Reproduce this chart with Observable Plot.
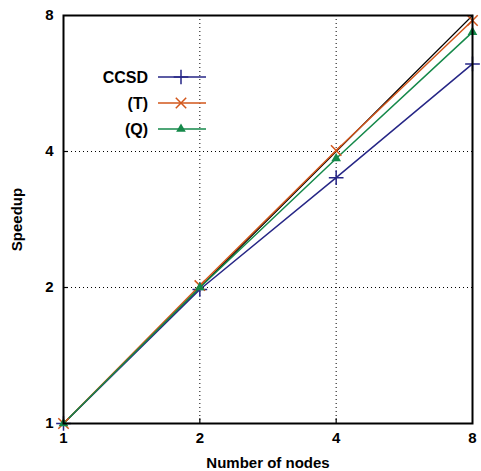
<!DOCTYPE html>
<html><head><meta charset="utf-8">
<script src="https://cdn.jsdelivr.net/npm/d3@7"></script>
<script src="https://cdn.jsdelivr.net/npm/@observablehq/plot@0.6"></script>
<style>
body{margin:0;background:#fff;font-family:"Liberation Sans",Arial,sans-serif;}
#wrap{position:relative;width:481px;height:471px;}
#legend{position:absolute;left:0;top:0;}
</style></head>
<body><div id="wrap"></div>
<script>
const nodes = [1, 2, 4, 8];
const ccsd = [1, 1.98, 3.5, 6.25];
const tri = [1, 2.02, 4.02, 7.8];
const quad = [1, 2.0, 3.86, 7.35];
const ideal = [1, 8];
const idealX = [1, 8];
const ticks = [1, 2, 4, 8];
const seriesNames = ["CCSD", "(T)", "(Q)"];
const colors = ["#262686", "#d2561a", "#15894a"];
const symbols = ["plus", "times", "triangle"];

const data = [];
[ccsd, tri, quad].forEach((vals, i) => vals.forEach((v, j) => data.push({s: seriesNames[i], x: nodes[j], y: v})));
const idealData = idealX.map((x, i) => ({x, y: ideal[i]}));

const chart = Plot.plot({
  width: 481, height: 471,
  marginLeft: 63, marginRight: 9, marginTop: 15, marginBottom: 48,
  style: {fontFamily: "Liberation Sans, Arial, sans-serif", fontSize: "16px", fontWeight: "bold", color: "#000", background: "#fff"},
  x: {type: "log", base: 2, domain: [1, 8]},
  y: {type: "log", base: 2, domain: [1, 8]},
  marks: [
    Plot.ruleX([2, 4], {stroke: "#000", strokeWidth: 1, strokeDasharray: "1,3"}),
    Plot.ruleY([2, 4], {stroke: "#000", strokeWidth: 1, strokeDasharray: "1,3"}),
    Plot.ruleX([2, 4], {y1: 1, y2: 1.025, stroke: "#000", strokeWidth: 1.2}),
    Plot.ruleY([2, 4], {x1: 1, x2: 1.025, stroke: "#000", strokeWidth: 1.2}),
    Plot.axisX({ticks: ticks, tickFormat: d => d, tickSize: 0, tickPadding: 9, fontSize: 15, label: "Number of nodes", labelAnchor: "center", labelOffset: 44, labelArrow: "none", fontWeight: "bold"}),
    Plot.axisY({ticks: ticks, tickFormat: d => d, tickSize: 0, tickPadding: 10, fontSize: 15, label: "Speedup", labelAnchor: "center", labelOffset: 52, labelArrow: "none", fontWeight: "bold"}),
    Plot.line(idealData, {x: "x", y: "y", stroke: "#000", strokeWidth: 1.2}),
    ...seriesNames.map((n, i) => Plot.line(data.filter(d => d.s === n), {x: "x", y: "y", stroke: colors[i], strokeWidth: 1.5})),
    ...seriesNames.map((n, i) => Plot.dot(data.filter(d => d.s === n), {x: "x", y: "y", symbol: symbols[i], r: i === 2 ? 3.6 : 4.8,
      stroke: i === 2 ? "none" : colors[i], fill: i === 2 ? colors[i] : "none", strokeWidth: 1.5})),
    Plot.frame({stroke: "#000", strokeWidth: 2})
  ]
});
document.getElementById("wrap").appendChild(chart);

// legend overlay
const ns = "http://www.w3.org/2000/svg";
const lg = document.createElementNS(ns, "svg");
lg.setAttribute("id", "legend");
lg.setAttribute("width", 481); lg.setAttribute("height", 471);
lg.style.pointerEvents = "none";
const ys = [77, 103, 129];
seriesNames.forEach((n, i) => {
  const t = document.createElementNS(ns, "text");
  t.setAttribute("x", 148); t.setAttribute("y", ys[i]); t.setAttribute("dy", "0.35em");
  t.setAttribute("text-anchor", "end"); t.setAttribute("font-size", 16); t.setAttribute("font-weight", "bold");
  t.setAttribute("font-family", "Liberation Sans, Arial, sans-serif");
  t.textContent = n; lg.appendChild(t);
  const l = document.createElementNS(ns, "line");
  l.setAttribute("x1", 158); l.setAttribute("x2", 206); l.setAttribute("y1", ys[i]); l.setAttribute("y2", ys[i]);
  l.setAttribute("stroke", colors[i]); l.setAttribute("stroke-width", 1.5); lg.appendChild(l);
  const p = document.createElementNS(ns, "path");
  const sym = [d3.symbolPlus, d3.symbolTimes, d3.symbolTriangle][i];
  const size = i === 2 ? Math.PI * 3.6 * 3.6 : Math.PI * 4.8 * 4.8;
  p.setAttribute("d", d3.symbol(sym, size)());
  p.setAttribute("transform", `translate(181,${ys[i]})`);
  if (i === 2) { p.setAttribute("fill", colors[i]); }
  else { p.setAttribute("fill", "none"); p.setAttribute("stroke", colors[i]); p.setAttribute("stroke-width", 1.5); }
  lg.appendChild(p);
});
document.getElementById("wrap").appendChild(lg);
</script></body></html>
